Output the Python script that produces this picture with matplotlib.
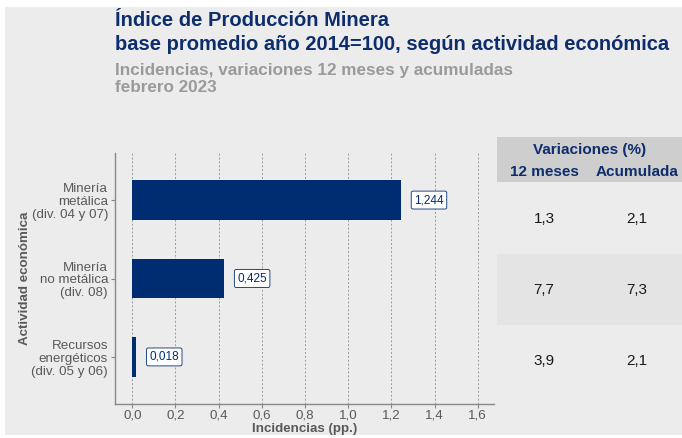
import matplotlib.pyplot as plt
from matplotlib.patches import Rectangle
from matplotlib.ticker import FuncFormatter, MultipleLocator

plt.rcParams['font.family'] = ['Liberation Sans', 'DejaVu Sans']

# datos
actividades = ["Minería\nmetálica\n(div. 04 y 07)",
               "Minería\nno metálica\n(div. 08)",
               "Recursos\nenergéticos\n(div. 05 y 06)"]
incidencias = [1.244, 0.425, 0.018]
var_12_meses = ["1,3", "7,7", "3,9"]
var_acumulada = ["2,1", "7,3", "2,1"]

azul = "#002d72"
gris_txt = "#595959"

W, H = 682, 438
fig = plt.figure(figsize=(W / 100, H / 100), dpi=100)
fig.patch.set_facecolor("white")

def px(x, y, w, h):
    # rectangulo en pixeles (origen arriba-izquierda) -> coords de figura
    return (x / W, 1 - (y + h) / H), w / W, h / H

# fondo gris
(x0, y0), w, h = px(5, 7, W - 5, H - 10)
fig.patches.append(Rectangle((x0, y0), w, h, transform=fig.transFigure,
                             facecolor="#ececec", edgecolor="none", zorder=-10))

# titulos
fig.text(115 / W, 1 - 20 / H, "Índice de Producción Minera", fontsize=14.5,
         fontweight="bold", color="#0d2d6c", va="center", ha="left")
fig.text(115 / W, 1 - 45 / H, "base promedio año 2014=100, según actividad económica",
         fontsize=14.5, fontweight="bold", color="#0d2d6c", va="center", ha="left")
fig.text(115 / W, 1 - 70 / H, "Incidencias, variaciones 12 meses y acumuladas",
         fontsize=12.3, fontweight="bold", color="#9a9a9a", va="center", ha="left")
fig.text(115 / W, 1 - 88 / H, "febrero 2023",
         fontsize=12.3, fontweight="bold", color="#9a9a9a", va="center", ha="left")

# grafico de barras
ax = fig.add_axes([115 / W, 34 / H, (494 - 115) / W, (404 - 153) / H])
ax.set_facecolor("none")
pos = list(range(1, len(actividades) + 1))
ax.barh(pos, incidencias, height=0.5, color=azul, zorder=3)
for p, v in zip(pos, incidencias):
    ax.text(v + 0.13, p, f"{v:.3f}".replace(".", ","), ha="center", va="center",
            fontsize=8.5, color=azul, zorder=4,
            bbox=dict(boxstyle="round,pad=0.25,rounding_size=0.15",
                      facecolor="white", edgecolor=azul, linewidth=0.6))

ax.set_xlim(-0.08, 1.675)
ax.set_ylim(3.6, 0.4)
ax.xaxis.set_major_locator(MultipleLocator(0.2))
ax.xaxis.set_major_formatter(FuncFormatter(lambda v, _: f"{v:.1f}".replace(".", ",")))
ax.set_yticks(pos)
ax.set_yticklabels(actividades, fontsize=9.6, color=gris_txt, linespacing=1.1, ha="right")
ax.tick_params(axis="x", labelsize=9.6, labelcolor=gris_txt, color="#888888",
               length=3, width=0.8, pad=1)
ax.tick_params(axis="y", color="#888888", length=3, width=0.8, pad=2)
ax.grid(axis="x", linestyle=(0, (2, 2)), color="#9a9a9a", linewidth=0.7, zorder=0)
ax.grid(axis="y", visible=False)
for s in ["top", "right"]:
    ax.spines[s].set_visible(False)
for s in ["left", "bottom"]:
    ax.spines[s].set_color("#888888")
    ax.spines[s].set_linewidth(1.0)
ax.set_xlabel("Incidencias (pp.)", fontsize=9.6, fontweight="bold", color=gris_txt, labelpad=1)
ax.set_ylabel("Actividad económica", fontsize=9.6, fontweight="bold", color=gris_txt,
              va="center")
ax.yaxis.set_label_coords(-(115 - 25) / (494 - 115), 0.5)

# tabla de variaciones
(x0, y0), w, h = px(497, 137, W - 497, 45)
fig.patches.append(Rectangle((x0, y0), w, h, transform=fig.transFigure,
                             facecolor="#cecece", edgecolor="none", zorder=-5))
(x0, y0), w, h = px(497, 254, W - 497, 71)
fig.patches.append(Rectangle((x0, y0), w, h, transform=fig.transFigure,
                             facecolor="#e4e4e4", edgecolor="none", zorder=-5))
fig.text(590 / W, 1 - 150 / H, "Variaciones (%)", fontsize=11, fontweight="bold",
         color="#0d2d6c", ha="center", va="center")
fig.text(544 / W, 1 - 172 / H, "12 meses", fontsize=11, fontweight="bold",
         color="#0d2d6c", ha="center", va="center")
fig.text(637 / W, 1 - 172 / H, "Acumulada", fontsize=11, fontweight="bold",
         color="#0d2d6c", ha="center", va="center")
filas_y = [219, 290, 361]
for fy, a, b in zip(filas_y, var_12_meses, var_acumulada):
    fig.text(544 / W, 1 - fy / H, a, fontsize=11, color="#1a1a1a", ha="center", va="center")
    fig.text(637 / W, 1 - fy / H, b, fontsize=11, color="#1a1a1a", ha="center", va="center")

fig.savefig("out.png", dpi=100, facecolor=fig.get_facecolor())
